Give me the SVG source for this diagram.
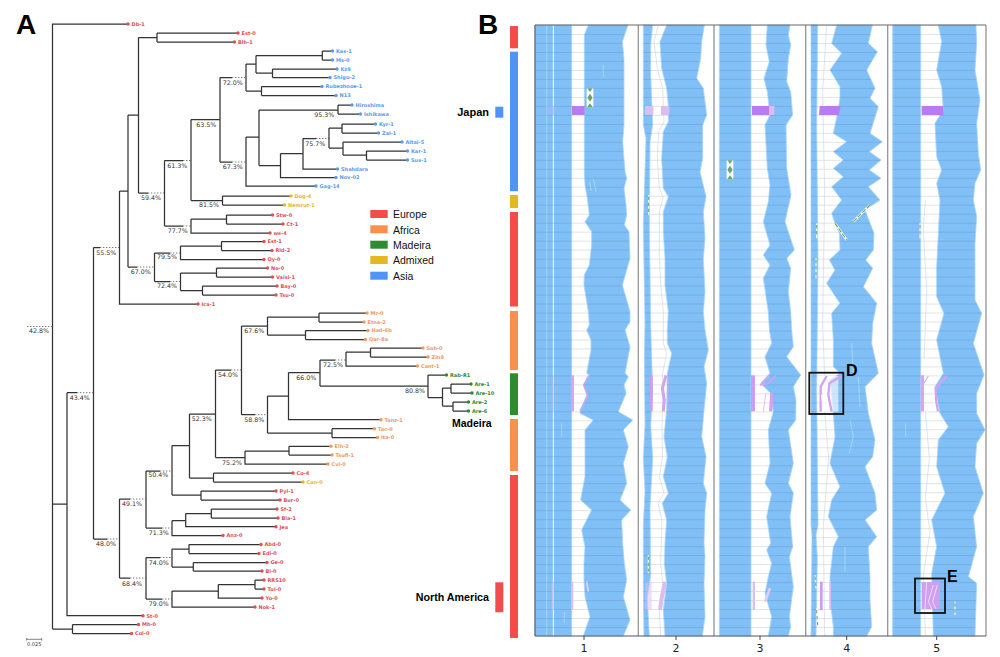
<svg xmlns="http://www.w3.org/2000/svg" xmlns:xlink="http://www.w3.org/1999/xlink" width="1000" height="657" viewBox="0 0 1000 657">
<style>
text{font-family:"DejaVu Sans","Liberation Sans",sans-serif}
.h{font-family:"Liberation Sans",Arial,sans-serif}
.b{font-weight:700}
.t{fill:none;stroke:#333;stroke-width:1.25}
.dot{fill:none;stroke:#444;stroke-width:.7;stroke-dasharray:1.4 1.6}
.p{font-size:6.3px;fill:#333}
.lf text{font-size:5px;font-weight:700}
.lf circle{r:1.7px}
.eu{fill:#df4f57}.af{fill:#ee9a62}.ma{fill:#2f8a35}.ad{fill:#e3b92a}.as{fill:#5b9bec}
.band{fill:#80c0f7;stroke:#a8d6fa;stroke-width:2.4;stroke-linejoin:round}
.gl{fill:url(#rows);stroke:none}
.pb{fill:#bb7af0}.pf{fill:#dcbdf2}.pm{fill:#a5b8f2}
.ps{fill:none;stroke:#d2a4f0;stroke-linejoin:round}
.wl{fill:none;stroke:#fff;stroke-width:1.6;opacity:.6}
.gp{fill:none;stroke:#c6d3e2;stroke-width:1.8}
.sep{stroke:#949494;stroke-width:1.3}
.leg{font-size:10.5px;fill:#111}
</style>
<defs>
<pattern id="rows" width="1400" height="26.955" patternUnits="userSpaceOnUse"><rect width="1400" height="2" fill="#3c465a" fill-opacity=".22"/></pattern>
<g id="inv"><rect width="20" height="56" fill="#fff"/><path d="M2 0H18L10 11ZM10 16 18 28 10 40 2 28ZM2 56H18L10 45Z" fill="#69a56f"/></g>
<polygon id="c1" points="175,0 163,30 163,100 163,190 163,300 163,440 165,480 172,520 178,570 165,590 185,620 185,660 178,720 163,750 162,780 175,860 178,900 170,915 183,945 183,975 170,1045 178,1050 160,1080 172,1110 150,1155 150,1165 190,1185 165,1215 165,1295 165,1355 152,1425 185,1455 155,1515 165,1565 162,1615 162,1665 165,1715 180,1775 160,1833 280,1833 300,1785 280,1715 290,1665 283,1615 278,1555 275,1485 302,1455 270,1425 290,1375 280,1315 295,1265 280,1215 308,1185 265,1160 288,1105 282,1080 295,1055 285,1045 300,965 285,915 300,890 300,860 277,780 300,700 297,620 283,600 290,570 288,540 282,490 290,460 285,440 278,350 282,300 282,190 282,100 277,50 294,0"/>
<polygon id="c1l" points="16,0 125,0 125,1833 16,1833"/>
<polygon id="c2" points="410,0 390,50 395,130 410,190 415,240 415,290 400,320 395,400 400,490 415,515 400,560 400,620 405,700 405,780 415,860 412,915 412,955 425,985 412,1045 410,1155 402,1235 412,1295 400,1355 415,1405 397,1435 410,1485 405,1555 403,1615 410,1675 400,1755 405,1833 517,1833 525,1775 522,1675 525,1595 522,1555 525,1455 530,1405 520,1375 528,1295 515,1235 522,1155 530,1075 522,1025 535,975 525,915 520,860 525,800 520,700 525,640 520,560 528,515 510,440 518,400 518,300 530,270 520,190 500,160 512,100 515,50 523,0"/>
<polygon id="c2l" points="340,0 340,300 348,340 340,600 345,900 343,1000 345,1200 340,1300 345,1400 340,1500 340,1700 342,1833 358,1833 352,1720 362,1650 360,1450 368,1300 362,1200 368,1100 362,900 358,600 360,350 368,300 362,150 362,60 368,0"/>
<polygon id="c3" points="712,0 708,60 718,110 702,160 712,200 720,270 705,300 712,430 720,480 715,530 700,590 720,660 700,690 720,720 700,760 715,860 718,915 725,955 705,995 720,1045 692,1075 722,1105 730,1160 715,1215 720,1315 705,1375 725,1405 710,1475 722,1555 710,1575 725,1615 715,1655 705,1705 725,1775 715,1833 775,1833 782,1805 778,1775 790,1685 782,1625 778,1595 788,1565 780,1475 790,1405 775,1375 790,1315 775,1215 797,1185 798,1125 790,1085 812,1050 770,995 790,965 785,915 782,860 775,800 782,730 770,700 793,675 765,590 783,510 770,430 768,300 788,270 782,200 770,170 775,100 782,60 775,30 780,0"/>
<polygon id="c3l" points="568,0 663,0 663,1833 568,1833"/>
<polygon id="c4" points="920,0 905,55 935,85 900,135 930,185 930,215 925,255 910,325 950,350 910,380 940,405 910,430 940,455 905,485 935,525 905,565 915,595 928,625 930,675 898,705 915,735 890,775 930,835 905,865 910,945 910,1025 930,1045 900,1065 910,1165 915,1235 900,1315 930,1385 905,1425 895,1475 920,1525 925,1535 910,1565 900,1655 900,1725 910,1805 910,1833 1010,1833 1025,1805 1020,1725 1020,1655 1015,1565 1040,1535 1005,1485 1040,1455 1035,1405 1005,1325 1028,1295 1035,1245 1015,1165 1005,1085 1045,1045 1025,955 1028,895 1040,835 1000,785 1028,730 1007,705 1030,675 1032,625 1005,555 1050,525 1015,485 1053,460 1018,435 1053,405 1018,380 1057,350 1020,325 1045,245 1020,220 1035,190 1010,135 1042,80 1015,55 1027,0"/>
<polygon id="c4l" points="843,0 863,0 860,300 864,700 860,1100 864,1500 858,1530 862,1600 858,1833 843,1833 846,1530 843,1500"/>
<polygon id="c5" points="1225,0 1235,50 1220,135 1235,185 1240,255 1215,295 1220,395 1235,435 1220,475 1230,525 1225,625 1220,725 1220,815 1242,865 1220,945 1240,1045 1215,1085 1230,1165 1255,1205 1225,1245 1220,1325 1245,1405 1205,1485 1220,1565 1205,1645 1210,1833 1335,1833 1340,1675 1315,1655 1340,1565 1330,1475 1360,1405 1335,1325 1340,1255 1365,1215 1340,1165 1340,1105 1362,1050 1330,955 1355,865 1335,825 1335,725 1335,655 1340,575 1330,525 1335,475 1352,435 1345,385 1340,295 1350,225 1335,135 1340,55 1338,0"/>
<polygon id="c5l" points="1088,0 1172,0 1172,1833 1088,1833"/>
</defs>
<rect width="1000" height="657" fill="#fff"/>

<text class="h b" x="16" y="33.5" font-size="28" fill="#000">A</text>
<text class="h b" x="478" y="33.5" font-size="28" fill="#000">B</text>

<g id="connectors">
<path class="t" d="M128 24H52.5V629M52.5 504H67M52.5 629H72.5M72.5 624.5V633.5M72.5 624.5H138.5M72.5 633.5H131.5M67 392.7V615.7H143M67 392.7H77M93.5 247.5V539M93.5 247.5H100M93.5 539H107
M119.5 191V304H198M119.5 191H128M128 115V267M128 115H138.5M138.5 37.5V193M138.5 37.5H157M157 33V42M157 33H238M157 42H234.5M138.5 193H148M164.5 160.5V226M164.5 160.5H183M191 119.5V200.5M191 119.5H220M220 77.5V162M220 77.5H232M246 64V91M246 64H256M256 55.5V73M256 55.5H322.3M322.3 51V60M322.3 51H332.5M322.3 60H332.5M256 73H272.5M272.5 69V77.5M272.5 69H337M272.5 77.5H330M246 91H261.5M261.5 86.5V95.5M261.5 86.5H322M261.5 95.5H336
M220 162H232M246 137V186H316M246 137H259M259 110V165.5M259 110H338M338 105V114M338 105H352M338 114H360.5M259 165.5H280.5M280.5 153.5V177.5H336M280.5 153.5H303M303 138.5V169H337.5M303 138.5H316M329 128V148M329 128H342M342 124V133M342 124H375.5M342 133H378.5M329 148H343M343 142V155M343 142H402M343 155H366.5M366.5 151V160M366.5 151H407.5M366.5 160H407.5
M191 200.5H222.5M222.5 196V205M222.5 196H291M222.5 205H284.5M164.5 226H183M191 219V233H270M191 219H226.5M226.5 215V224M226.5 215H272.5M226.5 224H283
M128 267H137M154.5 253V281.5M154.5 253H170M180.5 246V259.5H264M180.5 246H221.5M221.5 241.5V250.5M221.5 241.5H264M221.5 250.5H272M154.5 281.5H170M180.5 273V290.5M180.5 273H216.5M216.5 268V277M216.5 268H267.5M216.5 277H272.5M180.5 290.5H202.5M202.5 286V295M202.5 286H277M202.5 295H276
M119.5 499V578M119.5 499H130M146 471V528M146 471H160M172 445.5V495M172 445.5H189.5M189.5 414V478M189.5 414H215.5M215.5 370V457.5M215.5 370H231M241.5 326V414.7M241.5 326H267.5M267.5 317V335M267.5 317H319M319 313V322M319 313H367M319 322H364M267.5 335H305.5M305.5 330.5V339.5M305.5 330.5H368M305.5 339.5H365.5
M241.5 414.7H255M267.5 396V433M267.5 396H288.5M288.5 372.5V419.7H381M288.5 372.5H320M320 360V386M320 360H335M346 352V366H417.5M346 352H370.5M370.5 348V357M370.5 348H423M370.5 357H428M320 386H428M428 375V397.5M428 375H446.5M428 397.5H442.5M442.5 388V406M442.5 388H451M451 384V393M451 384H471M451 393H472M442.5 406H453M453 402V411M453 402H468.5M453 411H468.5M267.5 433H332M332 428.7V437.5M332 428.7H374.5M332 437.5H377.5
M215.5 457.5H245M245 451V464H328M245 451H289M289 446.3V455M289 446.3H331M289 455H332M189.5 478H213.5M213.5 473V482M213.5 473H293M213.5 482H303M172 495H201M201 491V500M201 491H276M201 500H280
M146 528H162M172 520.5V535.5H223M172 520.5H185.7M185.7 513.5V526.7H276M185.7 513.5H211.3M211.3 509V518M211.3 509H277M211.3 518H278
M119.5 578H130M146 557.5V599M146 557.5H160M172 549V567M172 549H189M189 544.5V553.5M189 544.5H261M189 553.5H259M172 567H193.3M193.3 562.5V571M193.3 562.5H267M193.3 571H262M146 599H162M172 591V607H255M172 591H218.3M218.3 584.5V598H262M218.3 584.5H255M255 580V589M255 580H264M255 589H264"/>
<path class="dot" d="M27 326.5H52.5M77 392.7H93.5M100 247.5H119.5M148 193H164.5M183 160.5H191M232 77.5H246M232 162H246M183 226H191M137 267H154.5M170 253H180.5M170 281.5H180.5M316 138.5H329M335 360H346M255 414.7H267.5M231 370H241.5M160 471H172M162 528H172M130 499H146M107 539H119.5M130 578H146M160 557.5H172M162 599H172"/>
</g>

<g id="tree-nodes" class="lf">
<g id="n-Db-1" class="eu"><circle cx="128" cy="24" r="1.7"/><text x="131.5" y="25.8">Db-1</text></g>
<g id="n-Est-0" class="eu"><circle cx="238" cy="33" r="1.7"/><text x="241.5" y="34.8">Est-0</text></g>
<g id="n-Blh-1" class="eu"><circle cx="234.5" cy="42" r="1.7"/><text x="238" y="43.8">Blh-1</text></g>
<g id="n-Kas-1" class="as"><circle cx="332.5" cy="51" r="1.7"/><text x="336" y="52.8">Kas-1</text></g>
<g id="n-Ms-0" class="as"><circle cx="332.5" cy="60" r="1.7"/><text x="336" y="61.8">Ms-0</text></g>
<g id="n-Kz9" class="as"><circle cx="337" cy="69" r="1.7"/><text x="340.5" y="70.8">Kz9</text></g>
<g id="n-Shigu-2" class="as"><circle cx="330" cy="77.5" r="1.7"/><text x="333.5" y="79.3">Shigu-2</text></g>
<g id="n-Rubezhnoe-1" class="as"><circle cx="322" cy="86.5" r="1.7"/><text x="325.5" y="88.3">Rubezhnoe-1</text></g>
<g id="n-N13" class="as"><circle cx="336" cy="95.5" r="1.7"/><text x="339.5" y="97.3">N13</text></g>
<g id="n-Hiroshima" class="as"><circle cx="352" cy="105" r="1.7"/><text x="355.5" y="106.8">Hiroshima</text></g>
<g id="n-Ishikawa" class="as"><circle cx="360.5" cy="114" r="1.7"/><text x="364" y="115.8">Ishikawa</text></g>
<g id="n-Kyr-1" class="as"><circle cx="375.5" cy="124" r="1.7"/><text x="379" y="125.8">Kyr-1</text></g>
<g id="n-Zal-1" class="as"><circle cx="378.5" cy="133" r="1.7"/><text x="382" y="134.8">Zal-1</text></g>
<g id="n-Altai-5" class="as"><circle cx="402" cy="142" r="1.7"/><text x="405.5" y="143.8">Altai-5</text></g>
<g id="n-Kar-1" class="as"><circle cx="407.5" cy="151" r="1.7"/><text x="411" y="152.8">Kar-1</text></g>
<g id="n-Sus-1" class="as"><circle cx="407.5" cy="160" r="1.7"/><text x="411" y="161.8">Sus-1</text></g>
<g id="n-Shahdara" class="as"><circle cx="337.5" cy="169" r="1.7"/><text x="341" y="170.8">Shahdara</text></g>
<g id="n-Nov-02" class="as"><circle cx="336" cy="177.5" r="1.7"/><text x="339.5" y="179.3">Nov-02</text></g>
<g id="n-Gag-14" class="as"><circle cx="316" cy="186" r="1.7"/><text x="319.5" y="187.8">Gag-14</text></g>
<g id="n-Dog-4" class="ad"><circle cx="291" cy="196" r="1.7"/><text x="294.5" y="197.8">Dog-4</text></g>
<g id="n-Nemrut-1" class="ad"><circle cx="284.5" cy="205" r="1.7"/><text x="288" y="206.8">Nemrut-1</text></g>
<g id="n-Stw-0" class="eu"><circle cx="272.5" cy="215" r="1.7"/><text x="276" y="216.8">Stw-0</text></g>
<g id="n-Ct-1" class="eu"><circle cx="283" cy="224" r="1.7"/><text x="286.5" y="225.8">Ct-1</text></g>
<g id="n-ws-4" class="eu"><circle cx="270" cy="233" r="1.7"/><text x="273.5" y="234.8">ws-4</text></g>
<g id="n-Est-1" class="eu"><circle cx="264" cy="241.5" r="1.7"/><text x="267.5" y="243.3">Est-1</text></g>
<g id="n-Rld-2" class="eu"><circle cx="272" cy="250.5" r="1.7"/><text x="275.5" y="252.3">Rld-2</text></g>
<g id="n-Oy-0" class="eu"><circle cx="264" cy="259.5" r="1.7"/><text x="267.5" y="261.3">Oy-0</text></g>
<g id="n-No-0" class="eu"><circle cx="267.5" cy="268" r="1.7"/><text x="271" y="269.8">No-0</text></g>
<g id="n-Vaisi-1" class="eu"><circle cx="272.5" cy="277" r="1.7"/><text x="276" y="278.8">Vaisi-1</text></g>
<g id="n-Bay-0" class="eu"><circle cx="277" cy="286" r="1.7"/><text x="280.5" y="287.8">Bay-0</text></g>
<g id="n-Tsu-0" class="eu"><circle cx="276" cy="295" r="1.7"/><text x="279.5" y="296.8">Tsu-0</text></g>
<g id="n-Ica-1" class="eu"><circle cx="198" cy="304" r="1.7"/><text x="201.5" y="305.8">Ica-1</text></g>
<g id="n-Mr-0" class="af"><circle cx="367" cy="313" r="1.7"/><text x="370.5" y="314.8">Mr-0</text></g>
<g id="n-Etna-2" class="af"><circle cx="364" cy="322" r="1.7"/><text x="367.5" y="323.8">Etna-2</text></g>
<g id="n-Had-6b" class="af"><circle cx="368" cy="330.5" r="1.7"/><text x="371.5" y="332.3">Had-6b</text></g>
<g id="n-Qar-8a" class="af"><circle cx="365.5" cy="339.5" r="1.7"/><text x="369" y="341.3">Qar-8a</text></g>
<g id="n-Sah-0" class="af"><circle cx="423" cy="348" r="1.7"/><text x="426.5" y="349.8">Sah-0</text></g>
<g id="n-Zin9" class="af"><circle cx="428" cy="357" r="1.7"/><text x="431.5" y="358.8">Zin9</text></g>
<g id="n-Cant-1" class="af"><circle cx="417.5" cy="366" r="1.7"/><text x="421" y="367.8">Cant-1</text></g>
<g id="n-Rab-R1" class="ma"><circle cx="446.5" cy="375" r="1.7"/><text x="450" y="376.8">Rab-R1</text></g>
<g id="n-Are-1" class="ma"><circle cx="471" cy="384" r="1.7"/><text x="474.5" y="385.8">Are-1</text></g>
<g id="n-Are-10" class="ma"><circle cx="472" cy="393" r="1.7"/><text x="475.5" y="394.8">Are-10</text></g>
<g id="n-Are-2" class="ma"><circle cx="468.5" cy="402" r="1.7"/><text x="472" y="403.8">Are-2</text></g>
<g id="n-Are-6" class="ma"><circle cx="468.5" cy="411" r="1.7"/><text x="472" y="412.8">Are-6</text></g>
<g id="n-Tanz-1" class="af"><circle cx="381" cy="419.7" r="1.7"/><text x="384.5" y="421.5">Tanz-1</text></g>
<g id="n-Tac-0" class="af"><circle cx="374.5" cy="428.7" r="1.7"/><text x="378" y="430.5">Tac-0</text></g>
<g id="n-Ita-0" class="af"><circle cx="377.5" cy="437.5" r="1.7"/><text x="381" y="439.3">Ita-0</text></g>
<g id="n-Elh-2" class="af"><circle cx="331" cy="446.3" r="1.7"/><text x="334.5" y="448.1">Elh-2</text></g>
<g id="n-Tsufl-1" class="af"><circle cx="332" cy="455" r="1.7"/><text x="335.5" y="456.8">Tsufl-1</text></g>
<g id="n-Cvi-0" class="af"><circle cx="328" cy="464" r="1.7"/><text x="331.5" y="465.8">Cvi-0</text></g>
<g id="n-Co-4" class="eu"><circle cx="293" cy="473" r="1.7"/><text x="296.5" y="474.8">Co-4</text></g>
<g id="n-Can-0" class="ad"><circle cx="303" cy="482" r="1.7"/><text x="306.5" y="483.8">Can-0</text></g>
<g id="n-Pyl-1" class="eu"><circle cx="276" cy="491" r="1.7"/><text x="279.5" y="492.8">Pyl-1</text></g>
<g id="n-Bur-0" class="eu"><circle cx="280" cy="500" r="1.7"/><text x="283.5" y="501.8">Bur-0</text></g>
<g id="n-Sf-2" class="eu"><circle cx="277" cy="509" r="1.7"/><text x="280.5" y="510.8">Sf-2</text></g>
<g id="n-Bla-1" class="eu"><circle cx="278" cy="518" r="1.7"/><text x="281.5" y="519.8">Bla-1</text></g>
<g id="n-Jea" class="eu"><circle cx="276" cy="526.7" r="1.7"/><text x="279.5" y="528.5">Jea</text></g>
<g id="n-Anz-0" class="eu"><circle cx="223" cy="535.5" r="1.7"/><text x="226.5" y="537.3">Anz-0</text></g>
<g id="n-Abd-0" class="eu"><circle cx="261" cy="544.5" r="1.7"/><text x="264.5" y="546.3">Abd-0</text></g>
<g id="n-Edi-0" class="eu"><circle cx="259" cy="553.5" r="1.7"/><text x="262.5" y="555.3">Edi-0</text></g>
<g id="n-Ge-0" class="eu"><circle cx="267" cy="562.5" r="1.7"/><text x="270.5" y="564.3">Ge-0</text></g>
<g id="n-Bl-0" class="eu"><circle cx="262" cy="571" r="1.7"/><text x="265.5" y="572.8">Bl-0</text></g>
<g id="n-RRS10" class="eu"><circle cx="264" cy="580" r="1.7"/><text x="267.5" y="581.8">RRS10</text></g>
<g id="n-Tul-0" class="eu"><circle cx="264" cy="589" r="1.7"/><text x="267.5" y="590.8">Tul-0</text></g>
<g id="n-Yo-0" class="eu"><circle cx="262" cy="598" r="1.7"/><text x="265.5" y="599.8">Yo-0</text></g>
<g id="n-Nok-1" class="eu"><circle cx="255" cy="607" r="1.7"/><text x="258.5" y="608.8">Nok-1</text></g>
<g id="n-St-0" class="eu"><circle cx="143" cy="615.7" r="1.7"/><text x="146.5" y="617.5">St-0</text></g>
<g id="n-Mh-0" class="eu"><circle cx="138.5" cy="624.5" r="1.7"/><text x="142" y="626.3">Mh-0</text></g>
<g id="n-Col-0" class="eu"><circle cx="131.5" cy="633.5" r="1.7"/><text x="135" y="635.3">Col-0</text></g>
</g>

<g id="support-values" class="p">
<text x="196.3" y="126.6">63.5%</text><text x="167.3" y="167.6">61.3%</text><text x="222.7" y="84.6">72.0%</text><text x="222.7" y="169">67.3%</text><text x="141" y="200">59.4%</text><text x="199" y="207.3">81.5%</text><text x="167.7" y="232.6">77.7%</text><text x="96.3" y="254.6">55.5%</text><text x="157" y="259.3">79.5%</text><text x="130.7" y="274">67.0%</text><text x="157" y="288.3">72.4%</text><text x="29" y="333.3">42.8%</text><text x="69.7" y="399.6">43.4%</text><text x="218" y="377.3">54.0%</text><text x="191.7" y="421">52.3%</text><text x="244.3" y="421.6">58.8%</text><text x="244.3" y="333">67.6%</text><text x="323" y="366.6">72.5%</text><text x="296.3" y="380">66.0%</text><text x="405" y="393.3">80.8%</text><text x="314.3" y="116.6">95.3%</text><text x="305.3" y="145.6">75.7%</text><text x="222" y="464.6">75.2%</text><text x="148.3" y="477.3">50.4%</text><text x="122" y="506.3">49.1%</text><text x="148.7" y="534.6">71.3%</text><text x="96" y="545.6">48.0%</text><text x="148.7" y="565.3">74.0%</text><text x="122" y="585.6">68.4%</text><text x="148.7" y="606.3">79.0%</text>
</g>

<g id="scale-bar">
<path d="M26.7 638V640.6M41.7 638V640.6M26.7 639.3H41.7" fill="none" stroke="#666" stroke-width=".8"/>
<text x="27" y="646" font-size="5" fill="#333">0.025</text>
</g>

<g id="legend">
<rect x="370.3" y="210" width="17.4" height="8" fill="#f44b4b"/><text class="h leg" x="393" y="218">Europe</text>
<rect x="370.3" y="225.3" width="17.4" height="8" fill="#f9914c"/><text class="h leg" x="393" y="233.5">Africa</text>
<rect x="370.3" y="240.7" width="17.4" height="8" fill="#2e8b31"/><text class="h leg" x="393" y="249">Madeira</text>
<rect x="370.3" y="256" width="17.4" height="8" fill="#e6b81f"/><text class="h leg" x="393" y="264">Admixed</text>
<rect x="370.3" y="271.7" width="17.4" height="8" fill="#4f94f8"/><text class="h leg" x="393" y="279.5">Asia</text>
</g>

<g id="population-bar">
<rect x="510" y="26" width="8" height="22.3" fill="#f44b4b"/>
<rect x="510" y="51.7" width="8" height="139.5" fill="#4f94f8"/>
<rect x="510" y="195" width="8" height="13" fill="#e6b81f"/>
<rect x="510" y="212" width="8" height="94.5" fill="#f44b4b"/>
<rect x="510" y="311" width="8" height="59" fill="#f9914c"/>
<rect x="510" y="373.3" width="8" height="41.7" fill="#2e8b31"/>
<rect x="510" y="419" width="8" height="52" fill="#f9914c"/>
<rect x="510" y="475" width="8" height="163" fill="#f44b4b"/>
</g>
<g id="japan-tag"><rect x="495.3" y="106.7" width="8" height="11" fill="#4f94f8"/><text class="h b" x="489" y="116" text-anchor="end" font-size="11" fill="#000">Japan</text></g>
<g id="na-tag"><rect x="495.3" y="582.3" width="8" height="30" fill="#f44b4b"/><text class="h b" x="489" y="600.5" text-anchor="end" font-size="10.7" fill="#000">North America</text></g>
<text class="h b" x="452" y="427" font-size="10.5" fill="#000">Madeira</text>

<g id="synteny-panel" transform="translate(530 25) scale(.33333)">
<rect x="125" width="70" height="1833" class="gl"/><rect x="358" width="60" height="1833" class="gl"/><rect x="663" width="70" height="1833" class="gl"/><rect x="858" width="95" height="1833" class="gl"/><rect x="1172" width="85" height="1833" class="gl"/>
<path class="gp" d="M385 0 372 50 382 130 398 190 402 290 386 320 382 400 388 490 400 515 388 560 388 700 392 780 400 860 400 955 410 985 398 1045 396 1235 398 1295 388 1355 402 1405 384 1435 396 1485 392 1615 398 1675 388 1755 392 1833"/>
<path class="gp" d="M890 0 878 200 884 500 878 900 884 1050M884 1160 896 1300 880 1500 884 1833"/>
<path class="gp" d="M1186 525 1180 610 1190 800 1182 1000M1186 1160 1198 1300 1186 1420 1200 1520 1180 1650 1186 1833"/>
<use xlink:href="#c1l" href="#c1l" class="band"/>
<use xlink:href="#c1" href="#c1" class="band"/>
<use xlink:href="#c2l" href="#c2l" class="band"/>
<use xlink:href="#c2" href="#c2" class="band"/>
<use xlink:href="#c3l" href="#c3l" class="band"/>
<use xlink:href="#c3" href="#c3" class="band"/>
<use xlink:href="#c4l" href="#c4l" class="band"/>
<use xlink:href="#c4" href="#c4" class="band"/>
<use xlink:href="#c5l" href="#c5l" class="band"/>
<use xlink:href="#c5" href="#c5" class="band"/>
<path class="wl" d="M50 0V1833"/><path d="M70 0V1833" fill="none" stroke="#fff" stroke-width="3"/>
<path class="wl" d="M220 120V155M190 460 198 500M178 470 184 498M95 1195V1235M103 1760V1795"/>
<path class="wl" d="M965 955 970 1045M985 1055 990 1145M960 1185 970 1235 958 1285M945 1565V1640M1127 1195V1235"/>

<use xlink:href="#c1l" href="#c1l" class="gl"/><use xlink:href="#c1" href="#c1" class="gl"/>
<use xlink:href="#c2l" href="#c2l" class="gl"/><use xlink:href="#c2" href="#c2" class="gl"/>
<use xlink:href="#c3l" href="#c3l" class="gl"/><use xlink:href="#c3" href="#c3" class="gl"/>
<use xlink:href="#c4l" href="#c4l" class="gl"/><use xlink:href="#c4" href="#c4" class="gl"/>
<use xlink:href="#c5l" href="#c5l" class="gl"/><use xlink:href="#c5" href="#c5" class="gl"/>

<g id="japan-row">
<rect x="48" y="243" width="24" height="27" class="pm" opacity=".6"/><rect x="126" y="243" width="38" height="27" class="pb"/>
<rect x="345" y="243" width="25" height="27" class="pf"/><rect x="393" y="243" width="25" height="27" class="pf"/>
<rect x="666" y="243" width="52" height="27" class="pb"/><rect x="718" y="243" width="15" height="27" class="pf"/>
<polygon points="869,243 932,243 926,270 867,270" class="pb"/>
<rect x="1175" y="243" width="65" height="27" class="pb"/>
</g>
<g id="madeira-rows">
<rect x="123" y="1051" width="9" height="108" fill="#d4a7ef"/><rect x="65" y="1051" width="5" height="108" class="pm"/>
<path class="ps" stroke-width="4" d="M176 1051 161 1080 172 1110 152 1159"/>
<rect x="360" y="1051" width="8" height="108" fill="#cf9cf0"/>
<path class="ps" stroke-width="9" d="M408 1051 397 1090 403 1125 400 1159"/><path class="ps" stroke-width="3" d="M414 1051V1159"/>
<rect x="663" y="1051" width="12" height="108" fill="#cf9cf0"/>
<path class="ps" stroke-width="5" d="M718 1051 692 1080 715 1075 738 1052"/>
<path class="ps" stroke-width="10" d="M725 1105 722 1159"/><path class="ps" stroke-width="2" d="M708 1105 700 1159"/>
<path d="M868 1053H925V1160H868Z" fill="#fff" opacity=".6"/>
<path class="ps" stroke-width="7" d="M890 1053 872 1085 872 1160"/>
<path class="ps" stroke-width="7" d="M935 1053 898 1075 895 1110 905 1160"/>
<path d="M875 1110 880 1160" stroke="#fff" stroke-width="3"/>
<rect x="1172" y="1051" width="10" height="108" fill="#d4a7ef"/>
<path class="ps" stroke-width="3" d="M1182 1075 1195 1053"/>
<path class="ps" stroke-width="7" d="M1250 1052 1217 1090 1219 1130 1224 1159"/>
</g>
<g id="north-america-rows">
<rect x="123" y="1670" width="7" height="85" class="pf"/><rect x="65" y="1670" width="7" height="85" class="pf" opacity=".6"/>
<path d="M170 1670 175 1700" stroke="#e6d2f5" stroke-width="5" fill="none"/>
<rect x="345" y="1670" width="20" height="85" class="pf" opacity=".5"/>
<path d="M405 1670 395 1720 390 1755" fill="none" stroke="#dcbdf2" stroke-width="12"/>
<rect x="668" y="1670" width="7" height="85" class="pf"/>
<path d="M720 1690 705 1730" fill="none" stroke="#e2ccf4" stroke-width="8"/>
<rect x="870" y="1670" width="8" height="85" fill="#cf9cf0"/>
<rect x="898" y="1670" width="5" height="85" class="pf"/>
<rect x="1175" y="1671" width="55" height="81" fill="#cf9ff2"/>
<path d="M1190 1671 1185 1752M1210 1680 1195 1730 1205 1752M1222 1680 1208 1730 1218 1752" fill="none" stroke="#fff" stroke-width="2.5" opacity=".75"/>
</g>
<g id="inversions">
<use xlink:href="#inv" href="#inv" x="170" y="190"/>
<use xlink:href="#inv" href="#inv" x="590" y="406"/>
<path d="M356 510V570M355 1590V1645M860 595V640M858 700V760M1170 595V640M855 1650 858 1690M860 1750 863 1805M1275 1730V1770" fill="none" stroke="#fff" stroke-width="4" opacity=".8"/>
<path d="M356 515V565M355 1595V1640M860 600V635M858 705V755M1170 600V635M855 1655 858 1685M860 1755 863 1800M1275 1735V1765" fill="none" stroke="#69a56f" stroke-width="3" stroke-dasharray="10 8"/>
<path d="M915 595 950 645M970 590 1020 540" fill="none" stroke="#fff" stroke-width="7"/>
<path d="M915 595 950 645M970 590 1020 540" fill="none" stroke="#69a56f" stroke-width="3.5" stroke-dasharray="14 5"/>
</g>
</g>

<g id="axes" fill="none">
<path class="sep" d="M638.3 25V636M714 25V636M805.7 25V636M887.7 25V636M986 25V636"/>
<path d="M535 25V636M535 636H986" stroke="#4e5560" stroke-width="1.2"/>
<path d="M535 25H986" stroke="#666" stroke-width="1"/>
<path d="M584 636V640M676 636V640M760 636V640M846.7 636V640M936.7 636V640" stroke="#333" stroke-width=".9"/>
</g>
<g id="axis-labels" font-size="11" fill="#222" text-anchor="middle">
<text x="584" y="652.3">1</text><text x="676" y="652.3">2</text><text x="760" y="652.3">3</text><text x="846.7" y="652.3">4</text><text x="936.7" y="652.3">5</text>
</g>

<g id="inset-D"><rect x="809.3" y="372.7" width="34" height="41.3" fill="none" stroke="#111" stroke-width="1.8"/><text class="h b" x="846" y="376" font-size="16" fill="#000">D</text></g>
<g id="inset-E"><rect x="915" y="578.5" width="30" height="34.5" fill="none" stroke="#111" stroke-width="1.8"/><text class="h b" x="947" y="582" font-size="16" fill="#000">E</text></g>
</svg>
